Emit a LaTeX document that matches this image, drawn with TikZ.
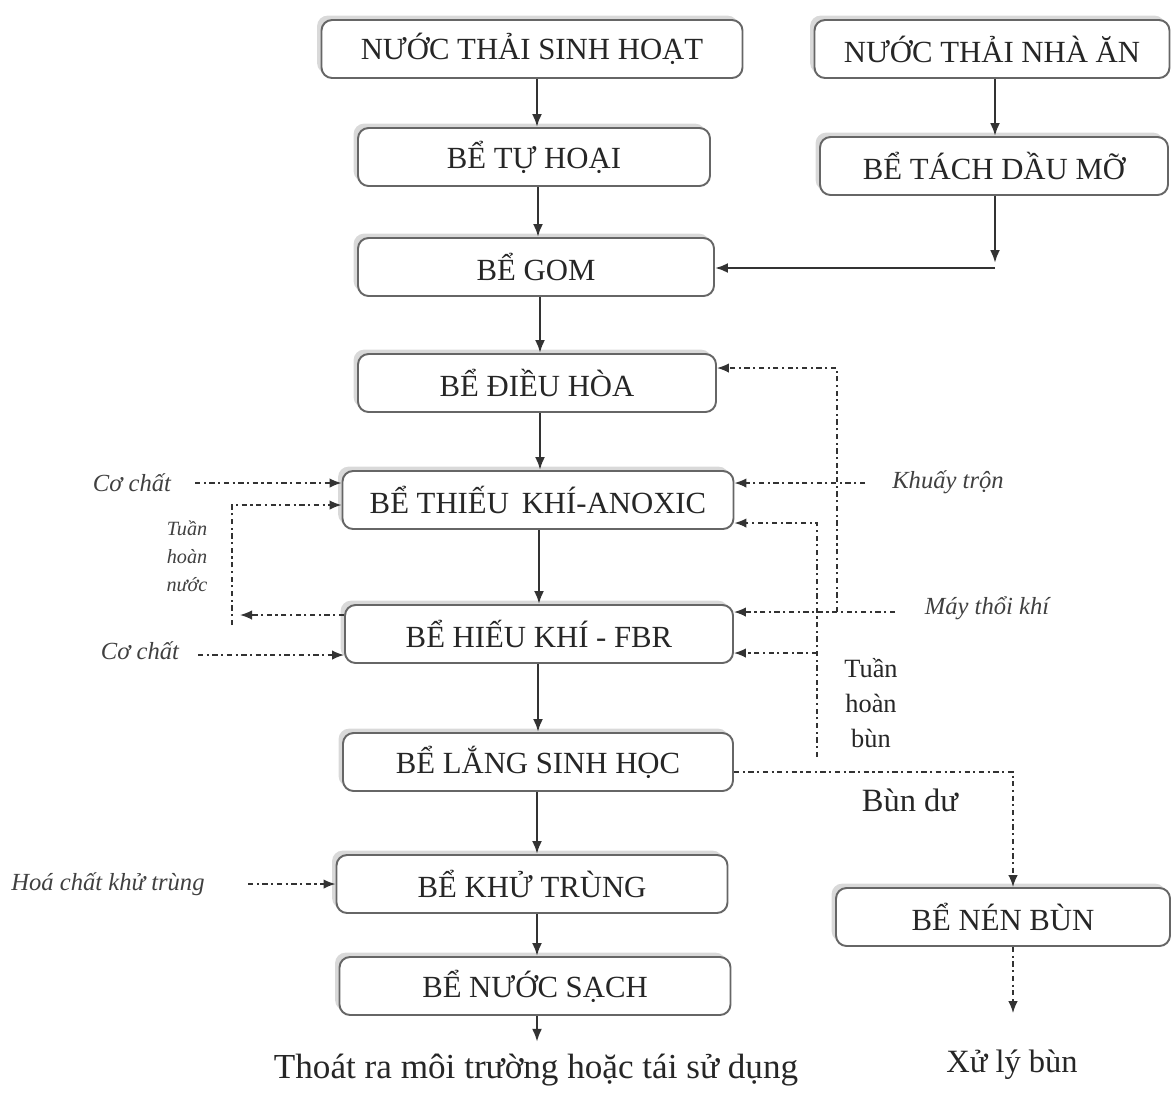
\documentclass[tikz,border=0pt]{standalone}
\usepackage{fontspec}
\setmainfont{Liberation Serif}
\usetikzlibrary{positioning,arrows.meta,shadows}

\begin{document}
\begin{tikzpicture}[x=0.2mm,y=-0.2mm,
  box/.style={draw=black!60,line width=1.1pt,rounded corners=6pt,fill=white,
    minimum height=11.6mm,inner sep=2pt,text=black!85,
    font=\fontsize{17.5}{19}\selectfont,
    drop shadow={shadow xshift=-2.5pt,shadow yshift=2.5pt,opacity=0.3}},
  lab/.style={font=\fontsize{14}{15}\selectfont\itshape,text=black!75,inner sep=1pt},
  txt/.style={font=\fontsize{18.5}{21}\selectfont,text=black!85,align=center,inner sep=1pt},
  ar/.style={-{Latex[length=2.6mm,width=2mm]},line width=1.4pt,black!80},
  dl/.style={line width=0.9pt,black!80,dash pattern=on 3pt off 2pt on 1.2pt off 2pt},
  dar/.style={dl,-{Latex[length=2.4mm,width=1.9mm]}}]
\useasboundingbox (0,0) rectangle (1172,1092);
% ---- main line
\node[box,minimum width=84.2mm] (nuocsh) at (532,49) {NƯỚC THẢI SINH HOẠT};
\node[box,minimum width=70.4mm] (tuhoai) at (534,157) {BỂ TỰ HOẠI};
\node[box,minimum width=71.2mm] (gom) at (536,267) {BỂ GOM};
\node[box,minimum width=71.6mm] (dieuhoa) at (537,383) {BỂ ĐIỀU HÒA};
\node[box,minimum width=78.2mm] (anoxic) at (538,500) {BỂ THIẾU\, KHÍ-ANOXIC};
\node[box,minimum width=77.6mm] (fbr) at (539,634) {BỂ HIẾU KHÍ - FBR};
\node[box,minimum width=78mm] (lang) at (538,762) {BỂ LẮNG SINH HỌC};
\node[box,minimum width=78.2mm] (khutrung) at (532,884) {BỂ KHỬ TRÙNG};
\node[box,minimum width=78.2mm] (nuocsach) at (535,986) {BỂ NƯỚC SẠCH};
\node[txt,font=\fontsize{20}{21}\selectfont] (thoatra) at (536,1070) {Thoát ra môi trường hoặc tái sử dụng};
% ---- right line
\node[box,minimum width=71mm] (nuocna) at (992,49) {NƯỚC THẢI NHÀ ĂN};
\node[box,minimum width=69.6mm] (tachdau) at (994,166) {BỂ TÁCH DẦU MỠ};
\node[box,minimum width=66.8mm] (nenbun) at (1003,917) {BỂ NÉN BÙN};
\node[txt] (xulybun) at (1012,1065) {Xử lý bùn};
\node[txt] (bundu) at (910,800) {Bùn dư};
\node[txt,font=\fontsize{15}{20}\selectfont] (thbun) at (871,703) {Tuần\\hoàn\\bùn};
% ---- side labels
\node[lab] (cochat1) at (132,483) {Cơ chất};
\node[lab,font=\fontsize{11.5}{16}\selectfont\itshape,align=center] (thnuoc) at (187,556) {Tuần\\hoàn\\nước};
\node[lab] (cochat2) at (140,651) {Cơ chất};
\node[lab] (hoachat) at (108,884) {Hoá chất khử trùng};
\node[lab] (khuay) at (948,482) {Khuấy trộn};
\node[lab] (maythoi) at (987,608) {Máy thổi khí};
% ---- solid arrows
\draw[ar] (nuocsh.south -| 537,0) -- (tuhoai.north -| 537,0);
\draw[ar] (tuhoai.south -| 538,0) -- (gom.north -| 538,0);
\draw[ar] (gom.south -| 540,0) -- (dieuhoa.north -| 540,0);
\draw[ar] (dieuhoa.south -| 540,0) -- (anoxic.north -| 540,0);
\draw[ar] (anoxic.south -| 539,0) -- (fbr.north -| 539,0);
\draw[ar] (fbr.south -| 538,0) -- (lang.north -| 538,0);
\draw[ar] (lang.south -| 537,0) -- (khutrung.north -| 537,0);
\draw[ar] (khutrung.south -| 537,0) -- (nuocsach.north -| 537,0);
\draw[ar] (nuocsach.south -| 537,0) -- ([yshift=2mm]thoatra.north -| 537,0);
\draw[ar] (nuocna.south -| 995,0) -- (tachdau.north -| 995,0);
\coordinate (gj) at (995,268);
\draw[ar] (tachdau.south -| gj) -- ([yshift=1mm]gj);
\draw[ar] (gj) -- (gom.east |- gj);
% ---- dashed feeds, left
\draw[dar] (195,483) -- (anoxic.west |- 0,483);
\coordinate (rn1) at (232,505);
\coordinate (rn2) at (232,615);
\draw[dar] (fbr.west |- rn2) -- ([xshift=1.6mm]rn2);
\draw[dar] ([yshift=-2mm]rn2) -- (rn1) -- (anoxic.west |- rn1);
\draw[dar] (198,655) -- (fbr.west |- 0,655);
\draw[dar] (248,884) -- (khutrung.west |- 0,884);
% ---- dashed feeds, right
\coordinate (mt1) at (837,368);
\coordinate (mt2) at (837,612);
\draw[dar] (895,612) -- (fbr.east |- mt2);
\draw[dar] (mt2) -- (mt1) -- (dieuhoa.east |- mt1);
\draw[dar] (865,483) -- (anoxic.east |- 0,483);
\coordinate (tb1) at (817,523);
\coordinate (tb2) at (817,757);
\draw[dar] (tb2) -- (tb1) -- (anoxic.east |- tb1);
\draw[dar] (817,653) -- (fbr.east |- 0,653);
\coordinate (bd) at (1013,772);
\draw[dar] (lang.east |- bd) -- (bd) -- (nenbun.north -| bd);
\draw[dar] (nenbun.south -| bd) -- ([yshift=7mm]xulybun.north -| bd);
\end{tikzpicture}
\end{document}
